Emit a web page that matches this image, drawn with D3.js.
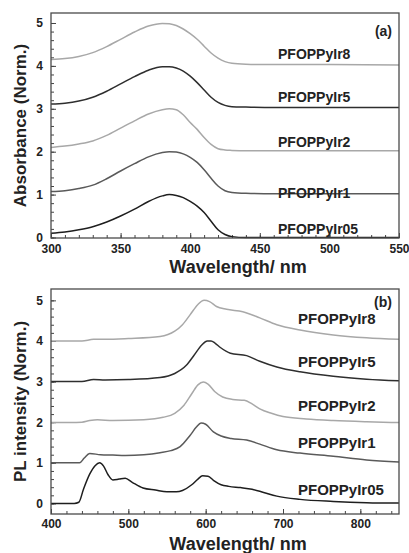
<!DOCTYPE html>
<html>
<head>
<meta charset="utf-8">
<script src="https://cdn.jsdelivr.net/npm/d3@7"></script>
<style>
  body { margin: 0; background: #fff; }
  svg { display: block; font-family: "Liberation Sans", Arial, sans-serif; font-weight: bold; }
  .axis text { font-size: 12px; fill: #222; font-family: "Liberation Sans", Arial, sans-serif; font-weight: bold; }
  .axis path, .axis line { stroke: #444; }
</style>
</head>
<body>
<div id="chart"></div>
<script>
const seriesNames = ['PFOPPyIr05', 'PFOPPyIr1', 'PFOPPyIr2', 'PFOPPyIr5', 'PFOPPyIr8'];

// (a) absorbance, already stacked by +1 per sample
const absWl = [300, 310, 320, 330, 340, 350, 360, 370, 380, 385, 390, 395, 400, 405, 410, 415, 420, 425, 430, 440, 460, 500, 550];
const absIr05 = [0.10, 0.13, 0.18, 0.25, 0.36, 0.50, 0.66, 0.84, 0.97, 1.00, 0.98, 0.93, 0.84, 0.73, 0.58, 0.38, 0.18, 0.07, 0.02, 0.00, 0.00, 0.00, 0.00];
const absIr1  = [1.07, 1.09, 1.14, 1.22, 1.37, 1.55, 1.72, 1.88, 1.98, 2.00, 1.99, 1.95, 1.87, 1.75, 1.58, 1.38, 1.20, 1.09, 1.05, 1.03, 1.02, 1.02, 1.02];
const absIr2  = [2.10, 2.13, 2.18, 2.25, 2.38, 2.55, 2.72, 2.88, 2.98, 3.00, 2.98, 2.86, 2.68, 2.52, 2.33, 2.17, 2.07, 2.04, 2.03, 2.02, 2.02, 2.02, 2.02];
const absIr5  = [3.11, 3.13, 3.18, 3.27, 3.41, 3.58, 3.75, 3.90, 3.98, 3.98, 3.95, 3.88, 3.76, 3.61, 3.44, 3.27, 3.15, 3.08, 3.05, 3.04, 3.03, 3.03, 3.03];
const absIr8  = [4.15, 4.17, 4.22, 4.31, 4.45, 4.62, 4.79, 4.93, 4.99, 4.98, 4.94, 4.86, 4.75, 4.62, 4.46, 4.30, 4.18, 4.10, 4.06, 4.04, 4.03, 4.03, 4.02];

// (b) PL, stacked the same way
const plWlIr05 = [400, 430, 436, 442, 450, 457, 463, 468, 474, 480, 488, 496, 505, 519, 535, 550, 562, 570, 582, 590, 596, 603, 610, 620, 630, 645, 660, 675, 692, 722, 765, 808, 850];
const plIr05   = [0, 0, 0.03, 0.35, 0.72, 0.93, 1.0, 0.92, 0.7, 0.58, 0.6, 0.62, 0.52, 0.38, 0.33, 0.29, 0.29, 0.32, 0.46, 0.6, 0.68, 0.67, 0.57, 0.46, 0.42, 0.39, 0.35, 0.27, 0.18, 0.1, 0.05, 0.02, 0.01];
const plWlIr1 = [400, 437, 443, 450, 464, 480, 496, 520, 541, 555, 567, 580, 588, 594, 600, 610, 620, 633, 653, 670, 692, 722, 765, 808, 850];
const plIr1   = [1.0, 1.0, 1.12, 1.23, 1.2, 1.19, 1.18, 1.2, 1.25, 1.3, 1.4, 1.68, 1.88, 1.98, 1.95, 1.76, 1.66, 1.6, 1.56, 1.46, 1.32, 1.24, 1.16, 1.07, 1.02];
const plWlIr2 = [400, 440, 450, 460, 480, 520, 545, 560, 572, 582, 590, 597, 603, 612, 622, 635, 650, 660, 670, 685, 700, 730, 765, 808, 850];
const plIr2   = [1.99, 2.0, 2.04, 2.06, 2.04, 2.06, 2.12, 2.22, 2.42, 2.7, 2.92, 2.99, 2.94, 2.75, 2.62, 2.56, 2.54, 2.45, 2.33, 2.22, 2.14, 2.08, 2.04, 2.01, 1.99];
const plWlIr5 = [400, 440, 455, 470, 500, 541, 560, 575, 585, 595, 602, 607, 612, 619, 632, 653, 670, 692, 722, 765, 808, 850];
const plIr5   = [3.0, 3.0, 3.05, 3.04, 3.05, 3.1, 3.2, 3.4, 3.65, 3.9, 4.0, 4.0, 3.95, 3.84, 3.7, 3.64, 3.5, 3.36, 3.24, 3.13, 3.06, 3.02];
const plWlIr8 = [400, 440, 455, 470, 500, 541, 560, 570, 580, 590, 598, 605, 614, 627, 648, 670, 692, 722, 765, 808, 850];
const plIr8   = [4.0, 4.0, 4.04, 4.04, 4.06, 4.11, 4.24, 4.4, 4.65, 4.9, 5.0, 4.97, 4.85, 4.78, 4.72, 4.57, 4.4, 4.27, 4.15, 4.08, 4.04];

const yTicks = [0, 1, 2, 3, 4, 5];
const absXTicks = [300, 350, 400, 450, 500, 550];
const plXTicks = [400, 500, 600, 700, 800];

const colors = ['#1e1e1e', '#5a5a5a', '#a8a8a8', '#2e2e2e', '#a8a8a8'];

const zip = (xs, ys) => xs.map((x, i) => ({x: x, y: ys[i]}));

const svg = d3.select('#chart').append('svg')
    .attr('width', 409)
    .attr('height', 553);

const left = 51, right = 399;

function drawPanel(p) {
  const x = d3.scaleLinear().domain(p.xDomain).range([left, right]);
  const y = d3.scaleLinear().domain(p.yDomain).range([p.bottom, p.top]);

  const g = svg.append('g');

  // minor ticks
  g.append('g')
      .attr('class', 'axis')
      .attr('transform', 'translate(0,' + p.bottom + ')')
      .call(d3.axisBottom(x).tickValues(d3.range(p.xDomain[0], p.xDomain[1] + 0.1, p.xMinor))
        .tickSizeInner(-3).tickSizeOuter(0).tickFormat(''))
      .select('.domain').remove();
  g.append('g')
      .attr('class', 'axis')
      .attr('transform', 'translate(' + left + ',0)')
      .call(d3.axisLeft(y).tickValues(d3.range(0, 5.01, 0.2))
        .tickSizeInner(-3).tickSizeOuter(0).tickFormat(''))
      .select('.domain').remove();

  // major ticks and labels
  g.append('g')
      .attr('class', 'axis')
      .attr('transform', 'translate(0,' + p.bottom + ')')
      .call(d3.axisBottom(x).tickValues(p.xTicks).tickSizeInner(-5).tickSizeOuter(0)
        .tickPadding(p.xPad).tickFormat(d3.format('d')))
      .select('.domain').remove();
  g.append('g')
      .attr('class', 'axis')
      .attr('transform', 'translate(' + left + ',0)')
      .call(d3.axisLeft(y).tickValues(yTicks).tickSizeInner(-5).tickSizeOuter(0)
        .tickPadding(8).tickFormat(d3.format('d')))
      .select('.domain').remove();

  const line = d3.line()
      .x(function(d) { return x(d.x); })
      .y(function(d) { return y(d.y); })
      .curve(d3.curveMonotoneX);

  p.series.forEach(function(s, i) {
    g.append('path')
        .datum(s)
        .attr('fill', 'none')
        .attr('stroke', colors[i])
        .attr('stroke-width', 1.5)
        .attr('d', line);
  });

  // frame
  g.append('rect')
      .attr('x', left)
      .attr('y', p.top)
      .attr('width', right - left)
      .attr('height', p.bottom - p.top)
      .attr('fill', 'none')
      .attr('stroke', '#4a4a4a')
      .attr('stroke-width', 1.3);

  seriesNames.forEach(function(name, i) {
    g.append('text')
        .attr('x', p.labelX)
        .attr('y', p.labelY[i])
        .style('font-size', p.labelSize)
        .style('fill', '#222')
        .text(name);
  });

  g.append('text')
      .attr('x', 392)
      .attr('y', p.tagY)
      .style('text-anchor', 'end')
      .style('font-size', '14px')
      .style('fill', '#222')
      .text(p.tag);

  g.append('text')
      .attr('x', 238)
      .attr('y', p.titleY)
      .style('text-anchor', 'middle')
      .style('font-size', '18px')
      .style('fill', '#222')
      .text('Wavelength/ nm');

  g.append('text')
      .attr('transform', 'translate(26,' + ((p.top + p.bottom) / 2) + ') rotate(-90)')
      .style('text-anchor', 'middle')
      .style('font-size', '17px')
      .style('fill', '#222')
      .text(p.yTitle);
}

drawPanel({
  top: 13, bottom: 238,
  xDomain: [300, 550], yDomain: [-0.012, 5.233],
  xTicks: absXTicks, xMinor: 10, xPad: 6,
  series: [zip(absWl, absIr05), zip(absWl, absIr1), zip(absWl, absIr2), zip(absWl, absIr5), zip(absWl, absIr8)],
  labelX: 278, labelY: [234, 198, 147, 102, 59], labelSize: '14px',
  tag: '(a)', tagY: 36,
  titleY: 273,
  yTitle: 'Absorbance (Norm.)'
});

drawPanel({
  top: 289, bottom: 514,
  xDomain: [400, 850], yDomain: [-0.26, 5.28],
  xTicks: plXTicks, xMinor: 20, xPad: 5,
  series: [zip(plWlIr05, plIr05), zip(plWlIr1, plIr1), zip(plWlIr2, plIr2), zip(plWlIr5, plIr5), zip(plWlIr8, plIr8)],
  labelX: 298, labelY: [495, 448, 411, 367, 324], labelSize: '15px',
  tag: '(b)', tagY: 307,
  titleY: 550,
  yTitle: 'PL intensity (Norm.)'
});
</script>
</body>
</html>
